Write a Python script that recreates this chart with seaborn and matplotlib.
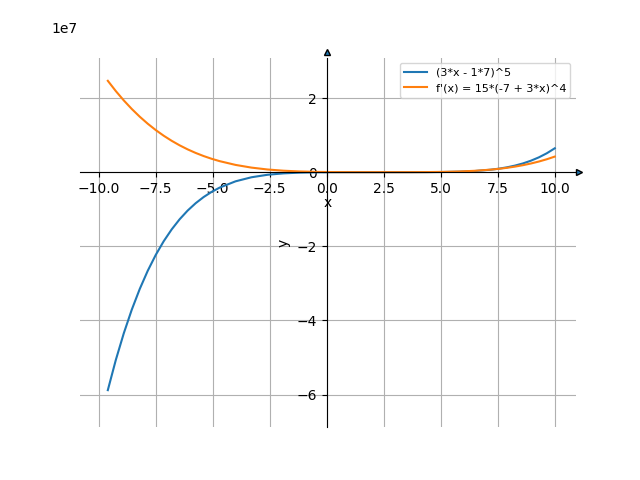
import seaborn as sns
import matplotlib.pyplot as plt

# points
x_vals = [-9.6, -9.25, -8.9, -8.55, -8.2, -7.85, -7.5, -7.15, -6.8, -6.45,
          -6.1, -5.75, -5.4, -5.05, -4.7, -4.0, -3.3, -2.6, -1.9, -1.2,
          -0.5, 0.2, 0.9, 1.6, 2.3, 3.0, 3.7, 4.4, 5.1, 5.8,
          6.5, 7.2, 7.55, 7.9, 8.25, 8.6, 8.95, 9.3, 9.65, 10.0]

f_vals = [-58805119, -50672700, -43465983, -37103591, -31509058, -26610685,
          -22341384, -18638517, -15443752, -12702906, -10365794, -8386074,
          -6721093, -5331735, -4182272, -2476099, -1378586, -710082, -330384,
          -133823, -44371, -10737, -1470, -51.5, -0.00001, 32, 1158.6, 9161,
          39390, 121665, 305176, 663383, 938797, 1298919, 1761943, 2348492,
          3081786, 3987783, 5095332, 6436343]

df_vals = [24639017, 21873108, 19346877, 17046060, 14956831, 13065803,
           11360026, 9826986, 8454609, 7231256, 6145728, 5187263, 4345535,
           3610656, 2973179, 1954815, 1223597, 719678, 390218, 189372, 78301,
           25166, 5128, 351, 0.0015, 240, 4239, 22164, 71187, 175479, 366211,
           681558, 899805, 1166694, 1488966, 1873797, 2328806, 2862045,
           3482004, 4197615]

labels = ["(3*x - 1*7)^5", "f'(x) = 15*(-7 + 3*x)^4"]

fig, ax = plt.subplots(figsize=(6.4, 4.8), dpi=100)

sns.lineplot(x=x_vals, y=f_vals, ax=ax, label=labels[0])
sns.lineplot(x=x_vals, y=df_vals, ax=ax, label=labels[1])

ax.set_xlim(-10.82, 10.93)
ax.set_ylim(-6.88e7, 3.09e7)

# axes through the origin
ax.spines['left'].set_position('zero')
ax.spines['bottom'].set_position('zero')
ax.spines['right'].set_visible(False)
ax.spines['top'].set_visible(False)

ax.plot(1.007, 0, '>', mfc='tab:blue', mec='k', ms=4,
        transform=ax.get_yaxis_transform(), clip_on=False)
ax.plot(0, 1.014, '^', mfc='tab:blue', mec='k', ms=4,
        transform=ax.get_xaxis_transform(), clip_on=False)

ax.grid(True)
ax.set_xlabel('x', labelpad=0)
ax.set_ylabel('y')
ax.legend(loc='upper right', fontsize=8)

# scale factor text sits higher and to the left in the original
ax.yaxis.get_offset_text().set_visible(False)
fig.text(78 / 640, 1 - 33 / 480, '1e7', ha='right', va='baseline')

plt.savefig('out.png')
